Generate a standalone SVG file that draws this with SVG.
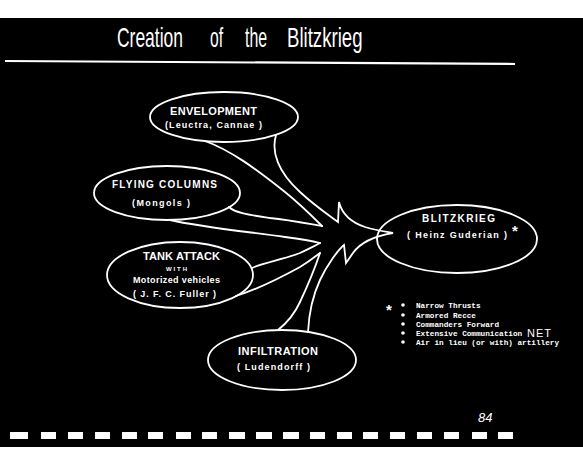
<svg xmlns="http://www.w3.org/2000/svg" width="583" height="449" viewBox="0 0 583 449">
<style>
.bg{fill:#000}
.node{fill:none;stroke:#fff;stroke-width:1.8}
.conn path{fill:none;stroke:#fff;stroke-width:1.8;stroke-linejoin:miter;stroke-linecap:round}
text{fill:#fff;font-family:"Liberation Sans",Arial,sans-serif}
.lbl{font-weight:bold;font-size:10px}
.sub{font-weight:bold;font-size:9px}
.title{font-size:27px}
.list{font-family:"Liberation Mono","Courier New",monospace;font-weight:bold;font-size:7.7px}
.dash{fill:#fff}
</style>
<rect x="0" y="0" width="583" height="449" fill="#fff"/>
<rect class="bg" x="0" y="18" width="583" height="429"/>

<g id="title">
<text class="title" transform="translate(117,47) scale(0.647,1)">Creation</text>
<text class="title" transform="translate(210,47) scale(0.58,1)">of</text>
<text class="title" transform="translate(245,47) scale(0.59,1)">the</text>
<text class="title" transform="translate(287,47) scale(0.69,1)">Blitzkrieg</text>
<path d="M5,61 L515,64" stroke="#fff" stroke-width="2.2" fill="none"/>
</g>

<g class="conn" id="connectors">
<path d="M276,135 C271,152 278,172 300,192 C315,206 330,216 338,222 L339,202 C342,214 350,222 365,227 C378,231 388,232 393,233 C375,236 360,243 353,253 L346,263 L344,245 C338,250 327,265 320,280 C313,295 309,312 308,332"/>
<path d="M205,141 C230,150 255,168 285,192 C300,204 312,216 322,226"/>
<path d="M229,207 C235,213 250,215 270,218 C290,220 310,224 322,226"/>
<path d="M170,220 C200,227 250,232 285,237 C300,239 312,241 320,243"/>
<path d="M252,268 C262,263 285,259 300,253 C308,249 315,246 320,243"/>
<path d="M236,296 C255,290 280,278 300,267 C310,261 316,256 320,253"/>
<path d="M320,253 C315,268 308,285 300,302 C295,313 288,322 278,330"/>
</g>

<g id="envelopment">
<ellipse class="node" cx="224" cy="117" rx="74" ry="25"/>
<text class="lbl" x="170" y="115" textLength="87" style="font-size:11px">ENVELOPMENT</text>
<text class="sub" x="165" y="128" textLength="97">(Leuctra, Cannae )</text>
</g>

<g id="flying-columns">
<ellipse class="node" cx="167" cy="193" rx="73" ry="27"/>
<text class="lbl" x="112" y="188" textLength="105">FLYING  COLUMNS</text>
<text class="sub" x="132" y="206" textLength="58">(Mongols )</text>
</g>

<g id="tank-attack">
<ellipse class="node" cx="180" cy="275" rx="73" ry="33"/>
<text class="lbl" x="143" y="260" textLength="77" style="font-size:11px">TANK ATTACK</text>
<text class="sub" x="166" y="271" textLength="21" style="font-size:6px">WITH</text>
<text class="sub" x="133" y="283" textLength="87">Motorized vehicles</text>
<text class="sub" x="133" y="297" textLength="83">( J. F. C. Fuller )</text>
</g>

<g id="infiltration">
<ellipse class="node" cx="282" cy="360" rx="74" ry="30"/>
<text class="lbl" x="238" y="355" textLength="80" style="font-size:11px">INFILTRATION</text>
<text class="sub" x="237" y="370" textLength="73">( Ludendorff )</text>
</g>

<g id="blitzkrieg">
<ellipse class="node" cx="457" cy="239" rx="80" ry="34"/>
<text class="lbl" x="422" y="222" textLength="73">BLITZKRIEG</text>
<text class="sub" x="407" y="238" textLength="100">( Heinz Guderian )</text>
<text class="lbl" x="512" y="236" style="font-size:15px">*</text>
</g>

<g id="notes">
<text class="lbl" x="386" y="315" style="font-size:15px">*</text>
<circle cx="403" cy="305" r="1.8" fill="#fff"/>
<circle cx="403" cy="315" r="1.8" fill="#fff"/>
<circle cx="403" cy="324" r="1.8" fill="#fff"/>
<circle cx="403" cy="333" r="1.8" fill="#fff"/>
<circle cx="403" cy="342" r="1.8" fill="#fff"/>
<text class="list" x="416" y="308">Narrow Thrusts</text>
<text class="list" x="416" y="318">Armored Recce</text>
<text class="list" x="416" y="327">Commanders Forward</text>
<text class="list" x="416" y="336">Extensive Communication</text>
<text x="527" y="337" style="font-size:11px;letter-spacing:1px">NET</text>
<text class="list" x="416" y="345">Air in lieu (or with) artillery</text>
</g>

<g id="page-number">
<text x="478" y="422" style="font-size:13px;font-style:italic">84</text>
</g>

<g id="filmstrip">
<rect class="dash" x="10" y="432" width="18" height="7"/>
<rect class="dash" x="41" y="432" width="15" height="7"/>
<rect class="dash" x="68" y="432" width="15" height="7"/>
<rect class="dash" x="95" y="432" width="15" height="7"/>
<rect class="dash" x="122" y="432" width="15" height="7"/>
<rect class="dash" x="148" y="432" width="15" height="7"/>
<rect class="dash" x="176" y="432" width="15" height="7"/>
<rect class="dash" x="202" y="432" width="15" height="7"/>
<rect class="dash" x="229" y="432" width="16" height="7"/>
<rect class="dash" x="256" y="432" width="16" height="7"/>
<rect class="dash" x="283" y="432" width="16" height="7"/>
<rect class="dash" x="310" y="432" width="15" height="7"/>
<rect class="dash" x="337" y="432" width="15" height="7"/>
<rect class="dash" x="363" y="432" width="15" height="7"/>
<rect class="dash" x="390" y="432" width="15" height="7"/>
<rect class="dash" x="417" y="432" width="15" height="7"/>
<rect class="dash" x="444" y="432" width="15" height="7"/>
<rect class="dash" x="472" y="432" width="15" height="7"/>
<rect class="dash" x="498" y="432" width="15" height="7"/>
</g>
</svg>
